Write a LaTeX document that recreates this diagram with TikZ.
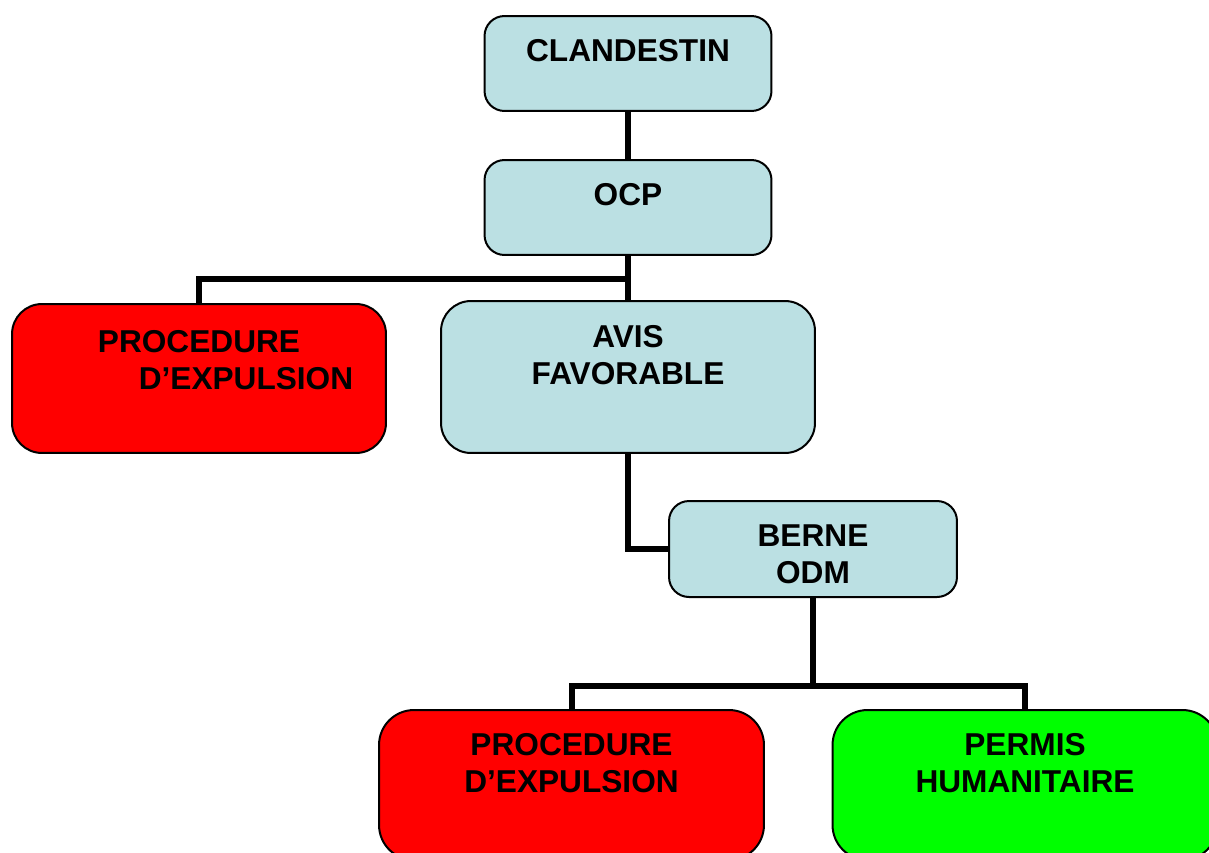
\documentclass[tikz,border=0pt]{standalone}
\usepackage{fontspec}
\setmainfont{Liberation Sans}
\definecolor{hellblau}{RGB}{187,224,227}
\definecolor{rot}{RGB}{255,0,0}
\definecolor{gruen}{RGB}{0,255,0}
\begin{document}
\begin{tikzpicture}[thick,
	kasten/.style={draw,line width=0.04cm,inner sep=0pt,align=center,
		font=\bfseries\fontsize{18}{21}\selectfont},
	klein/.style={kasten,rounded corners=0.4cm,minimum width=5.74cm,minimum height=1.9cm},
	gross/.style={kasten,rounded corners=0.6cm,minimum width=7.48cm,minimum height=3cm},
	linie/.style={line width=0.12cm}]
\def\ds{0.02}
\def\punkt#1#2{({(#1)*\ds},{(-#2)*\ds})}
\def\tief#1{\rule[-#1]{0pt}{#1}}
\useasboundingbox \punkt{0}{0} rectangle \punkt{1209}{852};
\clip \punkt{0}{0} rectangle \punkt{1209}{852};
% oben
\node[klein,fill=hellblau] (clandestin) at \punkt{628}{63.5} {CLANDESTIN\tief{0.54cm}};
\node[klein,fill=hellblau] (ocp) at \punkt{628}{207.5} {OCP\tief{0.54cm}};
% mitte
\node[gross,fill=rot,minimum height=2.98cm] (expulsion1) at \punkt{199}{378.5}
	{PROCEDURE\\\hspace*{1.88cm}D’EXPULSION\tief{0.76cm}};
\node[gross,fill=hellblau,minimum height=3.04cm] (avis) at \punkt{628}{377}
	{AVIS\\FAVORABLE\tief{0.88cm}};
\node[klein,fill=hellblau,minimum width=5.76cm,minimum height=1.92cm] (berne) at \punkt{813}{549}
	{\rule{0pt}{0.64cm}BERNE\\ODM};
% unten
\node[gross,fill=rot,minimum width=7.7cm,rounded corners=0.7cm] (expulsion2) at \punkt{571.5}{785}
	{PROCEDURE\\D’EXPULSION\tief{0.88cm}};
\node[gross,fill=gruen,minimum width=7.7cm,rounded corners=0.7cm] (permis) at \punkt{1025}{785}
	{PERMIS\\HUMANITAIRE\tief{0.88cm}};
% verbindungen
\path \punkt{628}{279} coordinate (gabel1);
\path \punkt{813}{686} coordinate (gabel2);
\draw[linie] (clandestin) -- (ocp);
\draw[linie] (ocp) -- (avis);
\draw[linie] (gabel1) -| (expulsion1);
\draw[linie] (avis) |- (berne);
\draw[linie] (berne) -- (gabel2);
\draw[linie] (expulsion2) |- (gabel2) -| (permis);
\end{tikzpicture}
\end{document}
